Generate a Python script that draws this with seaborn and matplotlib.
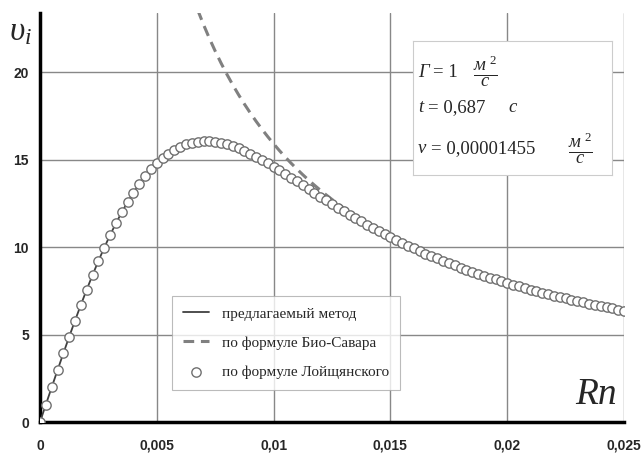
import numpy as np
import pandas as pd
import matplotlib
matplotlib.use("Agg")
import matplotlib.pyplot as plt
import seaborn as sns

# radius, step 0.00025
rn = [i * 0.00025 for i in range(101)]

# формула Лойцянского (точки)
v_loi = [0.0, 0.994, 1.984, 2.964, 3.931, 4.880, 5.806, 6.706, 7.576, 8.412,
         9.212, 9.973, 10.693, 11.369, 12.000, 12.584, 13.122, 13.612, 14.054, 14.449,
         14.797, 15.099, 15.357, 15.572, 15.745, 15.878, 15.974, 16.034, 16.060, 16.056,
         16.023, 15.964, 15.880, 15.775, 15.650, 15.508, 15.352, 15.181, 15.000, 14.809,
         14.610, 14.405, 14.196, 13.982, 13.767, 13.550, 13.333, 13.116, 12.901, 12.687,
         12.477, 12.269, 12.064, 11.863, 11.665, 11.473, 11.284, 11.099, 10.919, 10.743,
         10.572, 10.405, 10.243, 10.085, 9.931, 9.781, 9.635, 9.493, 9.355, 9.221,
         9.090, 8.963, 8.839, 8.719, 8.601, 8.487, 8.376, 8.267, 8.161, 8.058,
         7.957, 7.859, 7.763, 7.670, 7.579, 7.490, 7.403, 7.317, 7.234, 7.153,
         7.074, 6.996, 6.920, 6.845, 6.773, 6.701, 6.631, 6.563, 6.496, 6.430,
         6.366]

# предлагаемый метод (линия, совпадает с точками)
v_method = list(v_loi)

# Био-Савар
rn_bs = rn[27:61]
v_bs = [23.579, 22.736, 21.952, 21.221, 20.536, 19.894, 19.291, 18.724, 18.189, 17.684,
        17.206, 16.753, 16.324, 15.916, 15.527, 15.158, 14.805, 14.469, 14.147, 13.840,
        13.545, 13.263, 12.992, 12.732, 12.483, 12.243, 12.012, 11.789, 11.575, 11.368,
        11.169, 10.976, 10.790, 10.610]

xticks = [0, 0.005, 0.01, 0.015, 0.02, 0.025]
xlabels = ["0", "0,005", "0,01", "0,015", "0,02", "0,025"]
yticks = [0, 5, 10, 15, 20]

sns.set_style("white")
plt.rcParams["mathtext.fontset"] = "custom"
plt.rcParams["mathtext.rm"] = "Liberation Serif"
plt.rcParams["mathtext.it"] = "Liberation Serif:italic"

fig = plt.figure(figsize=(6.43, 4.53), dpi=100)
ax = fig.add_axes([0.0622, 0.0684, 0.9083, 0.9029])

df_m = pd.DataFrame({"rn": rn, "v": v_method})
df_bs = pd.DataFrame({"rn": rn_bs, "v": v_bs})
df_l = pd.DataFrame({"rn": rn, "v": v_loi})

sns.lineplot(data=df_m, x="rn", y="v", ax=ax, color="#404040", lw=1.3,
             label="предлагаемый метод", zorder=3)
sns.lineplot(data=df_bs, x="rn", y="v", ax=ax, color="#808080", lw=2.2,
             dashes=False, label="по формуле Био-Савара", zorder=2)
ax.lines[-1].set_linestyle((0, (3.5, 2.2)))
sns.scatterplot(data=df_l, x="rn", y="v", ax=ax, s=45, facecolor="white",
                edgecolor="#707070", linewidth=1.0, label="по формуле Лойщянского",
                zorder=4)

ax.set_xlim(0, 0.025)
ax.set_ylim(0, 23.4)
ax.set_xticks(xticks)
ax.set_xticklabels(xlabels)
ax.set_yticks(yticks)
ax.set_xlabel("")
ax.set_ylabel("")
ax.grid(True, color="#888888", lw=1.0)
ax.set_axisbelow(True)

for s in ["top", "right"]:
    ax.spines[s].set_visible(False)
for s in ["left", "bottom"]:
    ax.spines[s].set_linewidth(2.5)
    ax.spines[s].set_color("black")
ax.tick_params(axis="both", direction="out", length=4, width=1.5, color="black",
               labelsize=10, pad=4)
for t in ax.get_xticklabels() + ax.get_yticklabels():
    t.set_fontfamily("Liberation Sans")
    t.set_fontweight("bold")
ax.tick_params(axis="x", pad=8)

fig.text(9 / 643, 1 - 31 / 453, r"$\mathit{\upsilon_i}$", fontsize=24, ha="left", va="center")
ax.text(0.0247, 1.55, "Rn", fontsize=27, family="Liberation Serif", style="italic",
        ha="right", va="center")

leg = ax.legend(loc="lower left", bbox_to_anchor=(0.226, 0.078), frameon=True,
                fancybox=False, prop={"family": "Liberation Serif", "size": 11},
                handlelength=1.7, borderpad=0.75, labelspacing=1.0, borderaxespad=0)
leg.get_frame().set_edgecolor("#aaaaaa")
leg.get_frame().set_linewidth(0.8)
leg.set_zorder(6)

# текстовый блок с параметрами
box_ax = fig.add_axes([0.642, 0.6137, 0.3095, 0.296])
box_ax.set_xticks([])
box_ax.set_yticks([])
for s in box_ax.spines.values():
    s.set_color("#cccccc")
    s.set_linewidth(0.8)
box_ax.set_xlim(0, 1)
box_ax.set_ylim(0, 1)
tkw = dict(family="Liberation Serif", fontsize=13.5, va="center", ha="left")
box_ax.text(0.025, 0.768, "Γ", style="italic", **tkw)
box_ax.text(0.10, 0.768, "= 1", **tkw)
box_ax.text(0.30, 0.768, r"$\frac{\mathit{м}^{\ 2}}{\mathit{с}}$", fontsize=19,
            va="center", ha="left")
box_ax.text(0.025, 0.50, "t", style="italic", **tkw)
box_ax.text(0.075, 0.50, "= 0,687", **tkw)
box_ax.text(0.48, 0.50, "с", style="italic", **tkw)
box_ax.text(0.025, 0.20, "ν", style="italic", **tkw)
box_ax.text(0.09, 0.20, "= 0,00001455", **tkw)
box_ax.text(0.78, 0.20, r"$\frac{\mathit{м}^{\ 2}}{\mathit{с}}$", fontsize=19,
            va="center", ha="left")

fig.savefig("out.png", dpi=100)
